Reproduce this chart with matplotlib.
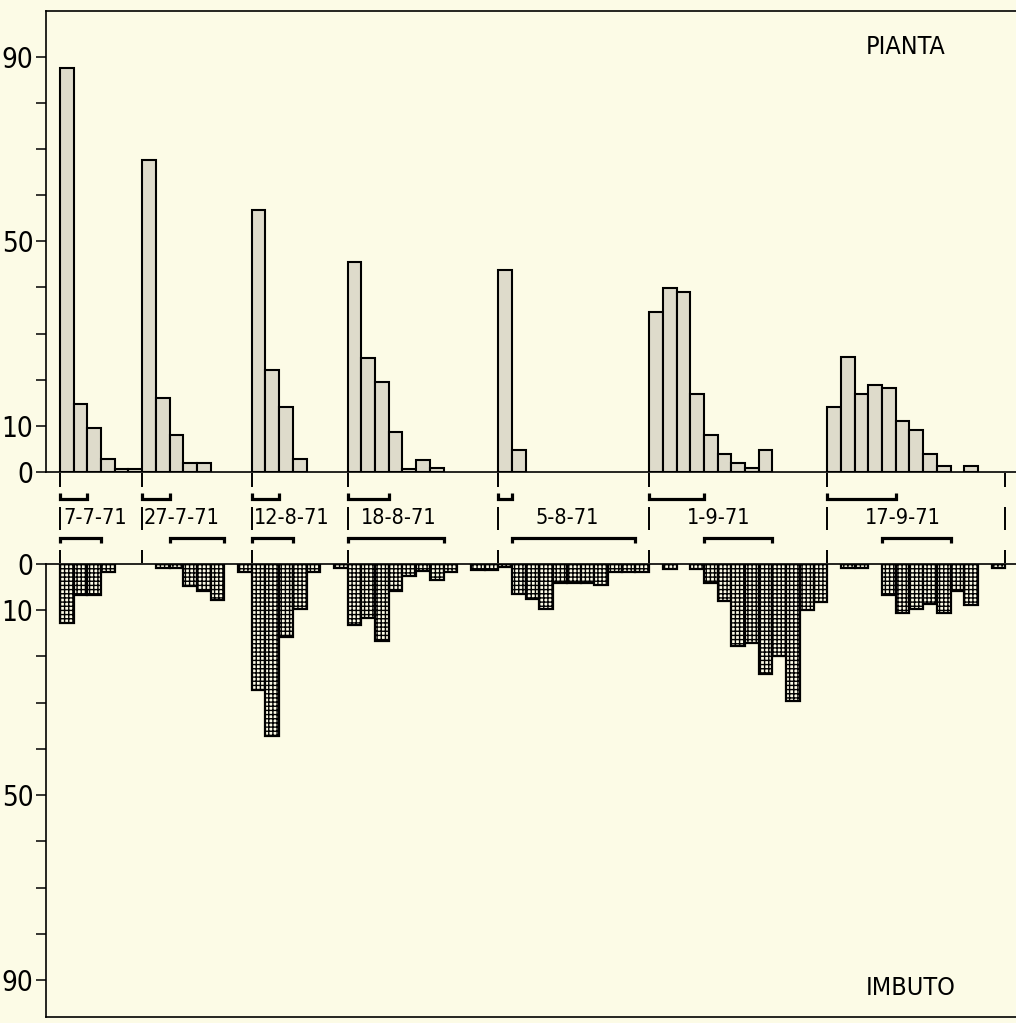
import os
import numpy as np
import matplotlib
matplotlib.use("Agg")
from matplotlib import pyplot as plt
from matplotlib import font_manager
from matplotlib.ticker import FixedLocator, FixedFormatter

plt.rcParams['hatch.linewidth'] = 1.0

# campionamenti: data, primo intervallo (slot) di ogni gruppo, ultimo bordo a 69
dates = ["7-7-71", "27-7-71", "12-8-71", "18-8-71", "5-8-71", "1-9-71", "17-9-71"]
group_start = [0, 6, 14, 21, 32, 43, 56, 69]
date_x = [2.55, 8.9, 16.9, 24.75, 37.0, 48.1, 61.5]

# catture sulla pianta (%), un valore per intervallo
pianta = [
    [87.5, 14.8, 9.6, 2.9, 0.7, 0.7],
    [67.6, 16.0, 8.0, 2.0, 2.0, 0, 0, 0],
    [56.8, 22.2, 14.1, 2.9, 0, 0, 0],
    [45.6, 24.7, 19.5, 8.7, 0.7, 2.5, 0.9, 0, 0, 0, 0],
    [43.7, 4.8, 0, 0, 0, 0, 0, 0, 0, 0, 0],
    [34.7, 39.9, 38.9, 16.8, 8.0, 3.8, 2.0, 0.9, 4.8, 0, 0, 0, 0],
    [14.0, 24.9, 16.8, 18.9, 18.1, 11.0, 9.0, 3.9, 1.2, 0, 1.3, 0, 0],
]
# catture nell'imbuto (%)
imbuto = [
    [12.8, 6.6, 6.6, 1.8, 0, 0],
    [0, 0.9, 0.9, 4.8, 5.8, 7.7, 0, 1.8],
    [27.2, 37.3, 15.7, 9.7, 1.8, 0, 0.9],
    [13.3, 11.7, 16.6, 5.8, 2.7, 1.6, 3.4, 1.7, 0, 1.4, 1.4],
    [0.6, 6.5, 7.6, 9.7, 4.2, 4.2, 4.2, 4.5, 1.8, 1.8, 1.8],
    [0, 1.1, 0, 1.1, 4.1, 7.9, 17.8, 17.0, 23.7, 19.8, 29.6, 10.0, 8.2],
    [0, 0.9, 0.9, 0, 6.6, 10.7, 9.7, 8.7, 10.7, 5.8, 8.9, 0, 0.9],
]
# periodi indicati dalle parentesi (inizio, fine in slot)
brk_top = [(0, 2), (6, 8), (14, 16), (21, 24), (32, 33), (43, 47), (56, 61)]
brk_low = [(0, 3), (8, 12), (14, 17), (21, 28), (33, 42), (47, 52), (60, 65)]

y_ticks = [0, 10, 20, 30, 40, 50, 60, 70, 80, 90]
y_labels = ["0", "10", "", "", "", "50", "", "", "", "90"]


def pick_condensed():
    """cerca un carattere stretto tra quelli installati"""
    prefs = ['notosans-extracondensed.', 'notosans-condensed.',
             'liberationsansnarrow-regular', 'dejavusanscondensed.',
             'robotocondensed-regular', 'opensans-condensedregular',
             'opensans_condensed-regular']
    files = [f.fname for f in font_manager.fontManager.ttflist]
    for p in prefs:
        for fn in files:
            if os.path.basename(fn).lower().startswith(p):
                return fn
    for f in font_manager.fontManager.ttflist:
        b = os.path.basename(f.fname).lower()
        if f.stretch == 'condensed' and f.style == 'normal' and f.weight in (400, 'normal') \
                and 'serif' not in b and 'mono' not in b:
            return f.fname
    return None


_fn = pick_condensed()


def fp(size):
    if _fn:
        return font_manager.FontProperties(fname=_fn, size=size)
    return font_manager.FontProperties(family='DejaVu Sans', size=size)


BG = '#fcfbe6'
W, H = 1016, 1023
fig = plt.figure(figsize=(W / 100, H / 100), dpi=100, facecolor=BG)

left = 46 / W
ax_top = fig.add_axes([left, (H - 472) / H, 1 - left, (472 - 10.5) / H])
ax_bot = fig.add_axes([left, (H - 1017) / H, 1 - left, (1017 - 564) / H])


def flat(groups):
    vals = []
    for g in groups:
        vals.extend(g)
    return np.array(vals, dtype=float)


top_vals = flat(pianta)
bot_vals = flat(imbuto)
slots = np.arange(len(top_vals))

for ax in (ax_top, ax_bot):
    ax.set_facecolor(BG)
    ax.set_xlim(-1.02, 69.78)
    ax.set_xticks([])
    ax.spines['right'].set_visible(False)
    for s in ('left', 'top', 'bottom'):
        ax.spines[s].set_linewidth(1.2)
    ax.yaxis.set_major_locator(FixedLocator(y_ticks))
    ax.yaxis.set_major_formatter(FixedFormatter(y_labels))
    ax.tick_params(axis='y', direction='out', length=7, width=1.1, pad=2)

ax_top.set_ylim(0, 100)
ax_bot.set_ylim(98, 0)

m = top_vals > 0
ax_top.bar(slots[m], top_vals[m], width=1, align='edge',
           facecolor='#dedbcb', edgecolor='black', linewidth=1.5)
m = bot_vals > 0
ax_bot.bar(slots[m], bot_vals[m], width=1, align='edge',
           facecolor=BG, edgecolor='black', linewidth=1.6, hatch='++++')

# fascia centrale: linee tratteggiate, parentesi, date
dash_segs = [(-0.2, -3.25), (-7.6, -12.6), (-16.9, -19.7)]
for x in group_start:
    for y0, y1 in dash_segs:
        ax_top.plot([x, x], [y0, y1], color='black', lw=1.4,
                    clip_on=False, solid_capstyle='butt')

for a, b in brk_top:
    ax_top.plot([a, a, b, b], [-4.5, -5.8, -5.8, -4.5], color='black', lw=2.3,
                clip_on=False, solid_capstyle='butt', solid_joinstyle='miter')
for a, b in brk_low:
    ax_top.plot([a, a, b, b], [-15.4, -14.2, -14.2, -15.4], color='black', lw=2.3,
                clip_on=False, solid_capstyle='butt', solid_joinstyle='miter')

date_txt = []
for x, d in zip(date_x, dates):
    date_txt.append(ax_top.text(x, -10.0, d, ha='center', va='center',
                                fontproperties=fp(21), clip_on=False))

t_p = ax_top.text(0.8866, 0.92, "PIANTA", transform=ax_top.transAxes,
                  ha='center', va='center', fontproperties=fp(19))
t_i = ax_bot.text(0.891, 0.065, "IMBUTO", transform=ax_bot.transAxes,
                  ha='center', va='center', fontproperties=fp(19))

tick_txt = ax_top.get_yticklabels() + ax_bot.get_yticklabels()
for t in tick_txt:
    t.set_fontproperties(fp(20))

# se il carattere trovato e' troppo largo, riduco le dimensioni
fig.canvas.draw()
r = fig.canvas.get_renderer()
w = date_txt[1].get_window_extent(r).width
k = min(1.0, 75 / w)
for t in date_txt:
    t.set_fontproperties(fp(21 * k))
w = t_p.get_window_extent(r).width
k = min(1.0, 80 / w)
t_p.set_fontproperties(fp(19 * k))
t_i.set_fontproperties(fp(19 * k))

fig.savefig("out.png", dpi=100, facecolor=BG)
